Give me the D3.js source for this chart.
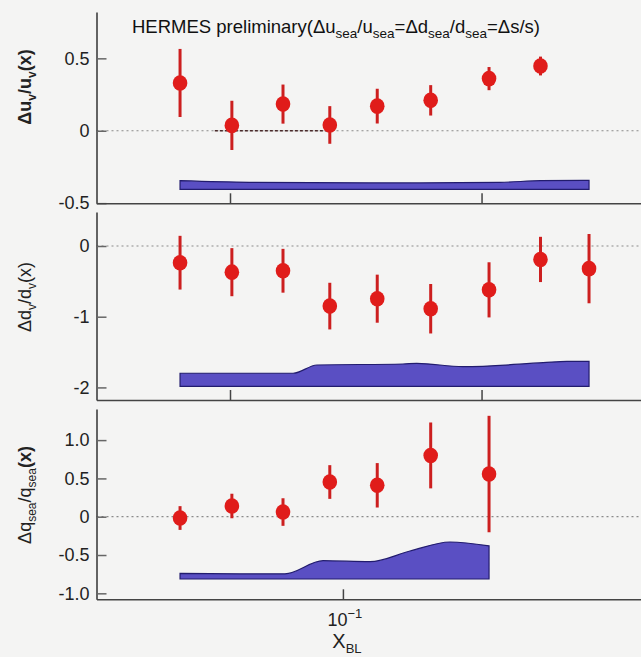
<!DOCTYPE html>
<html>
<head>
<meta charset="utf-8">
<script src="https://cdn.jsdelivr.net/npm/d3@7"></script>
<style>
  body { margin: 0; background: #f4f4f3; }
  svg { display: block; font-family: "Liberation Sans", Arial, sans-serif; }
</style>
</head>
<body>
<svg id="chart" width="641" height="657"></svg>
<script>
// x_BL bin centres
const xBins = [0.031, 0.045, 0.065, 0.091, 0.128, 0.188, 0.286, 0.414, 0.587];

// delta u_v / u_v
const uvValues = [0.33, 0.037, 0.184, 0.04, 0.17, 0.21, 0.36, 0.447];
const uvErrors = [0.235, 0.17, 0.135, 0.13, 0.12, 0.105, 0.08, 0.065];

// delta d_v / d_v
const dvValues = [-0.236, -0.37, -0.35, -0.85, -0.745, -0.887, -0.62, -0.19, -0.32];
const dvErrors = [0.38, 0.34, 0.31, 0.33, 0.34, 0.35, 0.39, 0.32, 0.49];

// delta q_sea / q_sea
const seaValues = [-0.017, 0.14, 0.061, 0.453, 0.41, 0.80, 0.557];
const seaErrors = [0.155, 0.16, 0.18, 0.22, 0.29, 0.43, 0.76];

// systematic error bands
const uvBandX = [0.031, 0.051, 0.174, 0.309, 0.414, 0.587];
const uvBandTop = [-0.345, -0.356, -0.36, -0.356, -0.345, -0.342];
const uvBandBottom = -0.405;

const dvBandX = [0.031, 0.0699, 0.083, 0.154, 0.170, 0.237, 0.422, 0.501, 0.587];
const dvBandTop = [-1.80, -1.80, -1.683, -1.669, -1.659, -1.707, -1.65, -1.631, -1.631];
const dvBandBottom = -1.985;

const seaBandX = [0.031, 0.0477, 0.0659, 0.0867, 0.1215, 0.162, 0.216, 0.286];
const seaBandTop = [-0.74, -0.745, -0.745, -0.574, -0.587, -0.448, -0.33, -0.38];
const seaBandBottom = -0.813;

// tick labels
const uvTicks = [0.5, 0, -0.5];
const uvTickLabels = ["0.5", "0", "-0.5"];
const dvTicks = [0, -1, -2];
const dvTickLabels = ["0", "-1", "-2"];
const seaTicks = [1, 0.5, 0, -0.5, -1];
const seaTickLabels = ["1.0", "0.5", "0", "-0.5", "-1.0"];
const upperXTicks = [0.0444, 0.271];
const lowerXTicks = [0.1];
const zeroSegment = [0.0398, 0.0911];

const svg = d3.select("#chart");
const width = 641;

const x = d3.scaleLog().domain([0.017, 0.853]).range([96.5, width]);

const panels = [
  { values: uvValues, errors: uvErrors, domain: [-0.501, 0.82], range: [203.3, 12],
    ticks: uvTicks, labels: uvTickLabels,
    band: uvBandX.map((v, i) => ({ x: v, hi: uvBandTop[i], lo: uvBandBottom })),
    xTicks: upperXTicks },
  { values: dvValues, errors: dvErrors, domain: [-2.178, 0.481], range: [400, 212],
    ticks: dvTicks, labels: dvTickLabels,
    band: dvBandX.map((v, i) => ({ x: v, hi: dvBandTop[i], lo: dvBandBottom })),
    xTicks: upperXTicks },
  { values: seaValues, errors: seaErrors, domain: [-1.078, 1.406], range: [599.3, 409],
    ticks: seaTicks, labels: seaTickLabels,
    band: seaBandX.map((v, i) => ({ x: v, hi: seaBandTop[i], lo: seaBandBottom })),
    xTicks: lowerXTicks }
];

panels.forEach((p, idx) => {
  const y = d3.scaleLinear().domain(p.domain).range(p.range);
  const g = svg.append("g").attr("class", "panel");

  // systematic band
  const area = d3.area()
    .x(d => x(d.x))
    .y0(d => y(d.lo))
    .y1(d => y(d.hi))
    .curve(d3.curveMonotoneX);
  g.append("path")
    .datum(p.band)
    .attr("d", area)
    .attr("fill", "#5a4fc3")
    .attr("stroke", "#221c6e")
    .attr("stroke-width", 1.2);

  // zero line
  g.append("line")
    .attr("x1", x.range()[0]).attr("x2", width)
    .attr("y1", y(0)).attr("y2", y(0))
    .attr("stroke", "#8a8a8a")
    .attr("stroke-width", 1.2)
    .attr("stroke-dasharray", "2,3");

  if (idx === 0) {
    g.append("line")
      .attr("x1", x(zeroSegment[0])).attr("x2", x(zeroSegment[1]))
      .attr("y1", y(0)).attr("y2", y(0))
      .attr("stroke", "#4a2a2a")
      .attr("stroke-width", 1.4)
      .attr("stroke-dasharray", "3,2");
  }

  // y axis
  const yAxis = d3.axisLeft(y)
    .tickValues(p.ticks)
    .tickFormat((d, i) => p.labels[i])
    .tickSize(-10)
    .tickSizeOuter(0)
    .tickPadding(7);
  const ya = g.append("g")
    .attr("transform", `translate(${x.range()[0]},0)`)
    .call(yAxis);
  ya.select(".domain").attr("stroke", "#333").attr("stroke-width", 1.5);
  ya.selectAll(".tick line").attr("stroke", "#666").attr("stroke-width", 1.5);
  ya.selectAll(".tick text")
    .attr("font-size", 18)
    .attr("fill", "#222")
    .attr("font-family", "'Liberation Sans', Arial, sans-serif");

  // x axis line with inward ticks
  const xAxis = d3.axisBottom(x)
    .tickValues(p.xTicks)
    .tickFormat("")
    .tickSize(-10)
    .tickSizeOuter(0);
  const xa = g.append("g")
    .attr("transform", `translate(0,${p.range[0]})`)
    .call(xAxis);
  xa.select(".domain").attr("stroke", "#444").attr("stroke-width", 1.5);
  xa.selectAll(".tick line").attr("stroke", "#444").attr("stroke-width", 1.5);

  // error bars
  const pts = p.values.map((v, i) => ({ x: xBins[i], v: v, e: p.errors[i] }));
  g.selectAll("line.err")
    .data(pts)
    .enter().append("line")
      .attr("class", "err")
      .attr("x1", d => x(d.x)).attr("x2", d => x(d.x))
      .attr("y1", d => y(d.v - d.e)).attr("y2", d => y(d.v + d.e))
      .attr("stroke", "#cc1f1f")
      .attr("stroke-width", 3);

  g.selectAll("ellipse.pt")
    .data(pts)
    .enter().append("ellipse")
      .attr("class", "pt")
      .attr("cx", d => x(d.x))
      .attr("cy", d => y(d.v))
      .attr("rx", 7.3)
      .attr("ry", 7.8)
      .attr("fill", "#e01c1a");
});

// title
const title = svg.append("text")
  .attr("x", 132)
  .attr("y", 33)
  .attr("font-size", 18.5)
  .attr("fill", "#111")
  .attr("font-family", "'Liberation Sans Narrow', 'Liberation Sans', Arial, sans-serif");
const titleParts = [
  ["HERMES preliminary(\u0394u", false], ["sea", true], ["/u", false], ["sea", true],
  ["=\u0394d", false], ["sea", true], ["/d", false], ["sea", true], ["=\u0394s/s)", false]
];
titleParts.forEach(([t, sub], i) => {
  const prevSub = i > 0 && titleParts[i - 1][1];
  title.append("tspan")
    .attr("font-size", sub ? 13.5 : 18.5)
    .attr("dy", sub ? 5 : (prevSub ? -5 : 0))
    .text(t);
});

// y axis labels
function yLabel(cx, cy, parts, weight) {
  const t = svg.append("text")
    .attr("transform", `translate(${cx},${cy}) rotate(-90)`)
    .attr("text-anchor", "middle")
    .attr("font-size", 18)
    .attr("font-weight", weight)
    .attr("fill", "#222");
  parts.forEach(([s, sub, bold], i) => {
    const prevSub = i > 0 && parts[i - 1][1];
    const ts = t.append("tspan")
      .attr("font-size", sub ? 12 : 18)
      .attr("dy", sub ? 5 : (prevSub ? -5 : 0))
      .text(s);
    if (bold) ts.attr("font-weight", "bold");
  });
}
yLabel(31, 87, [["\u0394u", false], ["v", true], ["/u", false], ["v", true], ["(x)", false]], "bold");
yLabel(31, 297, [["\u0394d", false], ["v", true], ["/d", false], ["v", true], ["(x)", false]], "normal");
yLabel(31, 495, [["\u0394q", false], ["sea", true], ["/q", false], ["sea", true], ["(x)", false, true]], "normal");

// x tick label 10^-1
const xl = svg.append("text")
  .attr("x", x(lowerXTicks[0]) + 2)
  .attr("y", 626)
  .attr("text-anchor", "middle")
  .attr("font-size", 18)
  .attr("fill", "#222");
xl.append("tspan").text("10");
xl.append("tspan").attr("font-size", 13).attr("dy", -8).text("\u22121");

// x axis title
const xt = svg.append("text")
  .attr("x", x(lowerXTicks[0]) + 4)
  .attr("y", 648)
  .attr("text-anchor", "middle")
  .attr("font-size", 20)
  .attr("fill", "#222")
  .attr("font-family", "'Liberation Sans Narrow', 'Liberation Sans', Arial, sans-serif");
xt.append("tspan").text("X");
xt.append("tspan").attr("font-size", 13).attr("dy", 5).text("BL");
</script>
</body>
</html>
